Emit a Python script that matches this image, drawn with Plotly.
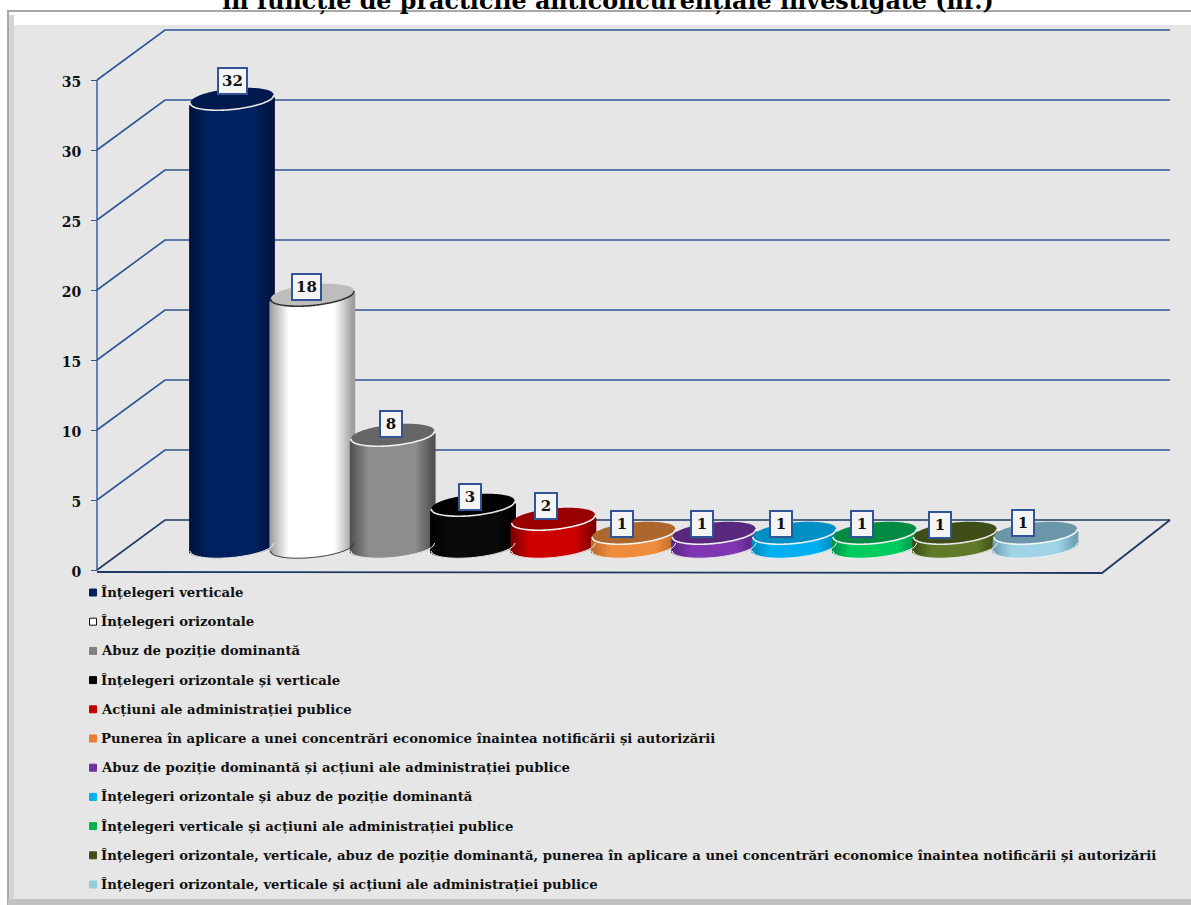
import plotly.graph_objects as go

W, H = 1191, 905

categories = [
    "Înțelegeri verticale",
    "Înțelegeri orizontale",
    "Abuz de poziție dominantă",
    "Înțelegeri orizontale și verticale",
    "Acțiuni ale administrației publice",
    "Punerea în aplicare a unei concentrări economice înaintea notificării și autorizării",
    "Abuz de poziție dominantă și acțiuni ale administrației publice",
    "Înțelegeri orizontale și abuz de poziție dominantă",
    "Înțelegeri verticale și acțiuni ale administrației publice",
    "Înțelegeri orizontale, verticale, abuz de poziție dominantă, punerea în aplicare a unei concentrări economice înaintea notificării și autorizării",
    "Înțelegeri orizontale, verticale și acțiuni ale administrației publice",
]
values = [32, 18, 8, 3, 2, 1, 1, 1, 1, 1, 1]
axis_ticks = [0, 5, 10, 15, 20, 25, 30, 35]
title_text = "în funcție de practicile anticoncurențiale investigate (nr.)"

edge_colors = ["#00123a", "#9a9a9a", "#4f4f4f", "#000000", "#7a0000", "#b86a2c",
               "#55277f", "#0085ba", "#00924a", "#3a4a14", "#6c9db2"]
mid_colors = ["#00215f", "#ffffff", "#8e8e8e", "#0a0a0a", "#cc0000", "#ee8c3e",
              "#7f36b0", "#00b0f0", "#00cc5f", "#5f7a2a", "#9ed4e6"]
top_colors = ["#001a50", "#bdbdbd", "#666666", "#000000", "#9a0000", "#ad672d",
              "#58287f", "#008fc4", "#008a42", "#3f4d18", "#6b95a8"]
arc_colors = ["#e8e8e8", "#333333", "#eeeeee", "#e8e8e8", "#f0f0f0", "#f5f5f5",
              "#f0f0f0", "#f0f0f0", "#f0f0f0", "#e8e8e8", "#f5f5f5"]
legend_colors = ["#002060", "#ffffff", "#808080", "#000000", "#c00000", "#ed7d31",
                 "#7030a0", "#00b0f0", "#00b050", "#3f5017", "#92cddc"]

FONT = "DejaVu Serif"
BLUE = "#2f5597"
NAVY = "#1f3864"

# geometry of the drawing, in screen pixels
X0, DX = 232.0, 80.35
HALF = 42.0
Y0, PX = 547.0, 14.0
TILT, MINOR = 4.0, 10.5
N_STRIPS = 42


def hexrgb(c):
    return tuple(int(c[i:i + 2], 16) for i in (1, 3, 5))


def mix(a, b, t):
    a, b = hexrgb(a), hexrgb(b)
    return "rgb(%d,%d,%d)" % tuple(round(p + (q - p) * t) for p, q in zip(a, b))


def to_x(px):
    return (px - X0) / DX


def ell(u, sign):
    """value-units offset of the tilted ellipse at u in [-1,1]; sign=-1 lower arc"""
    return (TILT * u + sign * MINOR * (1 - u * u) ** 0.5) / PX


fig = go.Figure()

# wall grid (main pixel subplot, behind everything)
for v in axis_ticks:
    fy = 570 - 14 * v
    by = 520 - 14 * v
    fig.add_trace(go.Scatter(x=[97, 165, 1170], y=[fy, by, by], mode="lines",
                             line=dict(color=BLUE if v else NAVY, width=1.6),
                             hoverinfo="skip", showlegend=False))
fig.add_trace(go.Scatter(x=[97, 1102, 1170], y=[572, 573, 520], mode="lines",
                         line=dict(color=NAVY, width=1.8),
                         hoverinfo="skip", showlegend=False))

# front axis that carries the value labels
fig.add_trace(go.Scatter(x=[97, 97], y=[axis_ticks[0], axis_ticks[-1]], yaxis="y3", mode="lines",
                         line=dict(color=BLUE, width=1.4), hoverinfo="skip", showlegend=False))

shapes = []
# page frame
shapes.append(dict(type="rect", xref="x", yref="y", x0=8, y0=11, x1=W + 5, y1=H + 5, layer="below",
                   fillcolor="#ffffff", line=dict(color="#a8a8a8", width=2)))
shapes.append(dict(type="rect", xref="x", yref="y", x0=9, y0=15, x1=14, y1=899, layer="below",
                   fillcolor="#d4d4d4", line=dict(width=0)))
shapes.append(dict(type="rect", xref="x", yref="y", x0=14, y0=25, x1=W + 5, y1=899, layer="below",
                   fillcolor="#e6e6e6", line=dict(color="#e6e6e6", width=0)))
shapes.append(dict(type="rect", xref="x", yref="y", x0=8, y0=899, x1=W + 5, y1=H + 5, layer="below",
                   fillcolor="#c2c2c2", line=dict(width=0)))

# cylinders
for i, (name, val) in enumerate(zip(categories, values)):
    step = 2 / N_STRIPS
    us = [-1 + step * (k + 0.5) for k in range(N_STRIPS)]
    fig.add_trace(go.Bar(
        x=[i + u * HALF / DX for u in us],
        y=[val] * N_STRIPS,
        base=[ell(u, -1) for u in us],
        width=(2 * HALF / DX / N_STRIPS) * 1.9,
        marker=dict(color=[mix(edge_colors[i], mid_colors[i], min(1, (1 - abs(u)) * 2.2)) for u in us],
                    line=dict(width=0)),
        xaxis="x2", yaxis="y2", name=name, showlegend=False, hoverinfo="name+y"))
    m = 60
    pts = [(-1 + 2 * k / m) for k in range(m + 1)]
    upper = [(i + u * HALF / DX, val + ell(u, 1)) for u in pts]
    lower = [(i + u * HALF / DX, val + ell(u, -1)) for u in pts]
    ring = upper + lower[::-1]
    shapes.append(dict(type="path", xref="x2", yref="y2", layer="above",
                       path="M" + "L".join("%.4f,%.4f" % p for p in ring) + "Z",
                       fillcolor=top_colors[i], line=dict(width=0)))
    shapes.append(dict(type="path", xref="x2", yref="y2", layer="above",
                       path="M" + "L".join("%.4f,%.4f" % p for p in lower),
                       line=dict(color=arc_colors[i], width=1.6)))
    base_arc = [(i + u * HALF / DX, ell(u, -1)) for u in pts]
    shapes.append(dict(type="path", xref="x2", yref="y2", layer="above",
                       path="M" + "L".join("%.4f,%.4f" % p for p in base_arc),
                       line=dict(color=arc_colors[i] if i == 1 else "#f4f4f4", width=1)))

annotations = []
# value boxes
label_dx = [0, -6, -2, -3, -7, -12, -12, -13, -13, -15, -13]
label_dy = [18, 8, 11, 8, 13, 9, 9, 9, 9, 8, 10]
for i, val in enumerate(values):
    annotations.append(dict(x=i, y=val, xref="x2", yref="y2", text="<b>%d</b>" % val,
                            showarrow=False, xshift=label_dx[i], yshift=label_dy[i],
                            width=None if val >= 10 else 14,
                            bgcolor="#f4f4f4", bordercolor=BLUE, borderwidth=2, borderpad=3,
                            font=dict(family=FONT, size=15, color="#111111")))

# legend
legend_y = [592.5 + 29.2 * k for k in range(len(categories))]
for k, name in enumerate(categories):
    annotations.append(dict(x=99, y=legend_y[k], xref="x", yref="y", xanchor="left", yanchor="middle",
                            text="<b>%s</b>" % name, showarrow=False,
                            font=dict(family=FONT, size=13.25, color="#111111")))
    fig.add_trace(go.Scatter(x=[93], y=[legend_y[k]], mode="markers", hoverinfo="skip", showlegend=False,
                             marker=dict(symbol="square", size=7, color=legend_colors[k],
                                         line=dict(color="#111111" if k == 1 else legend_colors[k], width=1))))

fig.update_layout(
    width=W, height=H, autosize=False,
    margin=dict(l=0, r=0, t=0, b=0, pad=0),
    paper_bgcolor="#ffffff", plot_bgcolor="rgba(0,0,0,0)",
    barmode="overlay", showlegend=False,
    title=dict(text="<b>%s</b>" % title_text, x=608 / W, xanchor="center",
               y=1 - 1 / H, yref="container", yanchor="middle",
               font=dict(family=FONT, size=23.8, color="#000000")),
    xaxis=dict(range=[0, W], visible=False, domain=[0, 1], fixedrange=True),
    yaxis=dict(range=[H, 0], visible=False, domain=[0, 1], fixedrange=True),
    xaxis2=dict(range=[to_x(0), to_x(W)], overlaying="x", visible=False, anchor="y2"),
    yaxis2=dict(range=[(Y0 - H) / PX, Y0 / PX], overlaying="y", visible=False, anchor="x2"),
    yaxis3=dict(range=[(570 - H) / PX, 570 / PX], overlaying="y", anchor="free", position=97 / W, side="left",
                tickvals=axis_ticks, ticks="outside", ticklen=6, tickcolor=BLUE, showgrid=False, zeroline=False,
                showline=False, ticklabelstandoff=7, ticklabelshift=2,
                tickfont=dict(family=FONT, size=14, color="#111111", weight="bold")),
    shapes=shapes, annotations=annotations,
)

fig.write_html("out.html", config={"displayModeBar": False},
               post_script="document.body.style.margin='0';")
